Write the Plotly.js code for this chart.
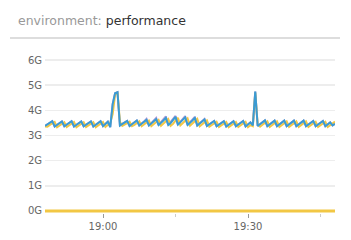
<!DOCTYPE html>
<html>
<head>
<meta charset="utf-8">
<script src="https://cdn.plot.ly/plotly-3.0.1.min.js"></script>
<style>html,body{margin:0;padding:0;background:#fff;}#chart{width:351px;height:240px;}</style>
</head>
<body>
<div id="chart"></div>
<script>
// Sampled every 30 s starting 18:48:00
var startTime = '2024-01-01 18:48:00';
var stepMs = 30000;

var seriesBlue = [
  3.38,3.45,3.52,3.57, 3.36,3.43,3.50,3.56, 3.37,3.44,3.51,3.57, 3.36,3.43,3.50,3.56,
  3.37,3.44,3.51,3.56, 3.36,3.43,3.50,3.57, 3.37,3.45,3.55,3.33, 4.25,4.68,4.72,3.40,
  3.45,3.52,3.58,3.38, 3.45,3.53,3.60,3.40, 3.47,3.55,3.62,3.40, 3.48,3.57,3.65,3.42,
  3.50,3.60,3.70,3.42, 3.50,3.62,3.74,3.43, 3.52,3.62,3.72,3.42, 3.50,3.60,3.70,3.40,
  3.48,3.56,3.64,3.38, 3.45,3.52,3.58,3.37, 3.44,3.51,3.57,3.36, 3.44,3.51,3.57,3.37,
  3.44,3.51,3.58,3.36, 3.44,3.52,3.40,4.75, 3.38,3.46,3.54,3.60, 3.37,3.45,3.53,3.59,
  3.37,3.45,3.53,3.59, 3.37,3.45,3.53,3.59, 3.37,3.45,3.53,3.59, 3.37,3.45,3.53,3.58,
  3.37,3.45,3.53,3.58, 3.37,3.45,3.52,3.40, 3.46
];

var seriesYellow = [
  3.36, 3.35,3.42,3.49,3.54, 3.33,3.40,3.47,3.53, 3.34,3.41,3.48,3.54, 3.33,3.40,3.47,3.53,
  3.34,3.41,3.48,3.53, 3.33,3.40,3.47,3.54, 3.34,3.42,3.50,3.85, 4.62,4.72,3.55,3.38,
  3.42,3.49,3.55,3.37, 3.42,3.50,3.57,3.37, 3.44,3.52,3.59,3.37, 3.45,3.54,3.62,3.39,
  3.47,3.57,3.66,3.39, 3.47,3.59,3.70,3.40, 3.49,3.59,3.68,3.39, 3.47,3.57,3.66,3.37,
  3.45,3.53,3.60,3.35, 3.42,3.49,3.55,3.34, 3.41,3.48,3.54,3.33, 3.41,3.48,3.54,3.34,
  3.41,3.48,3.55,3.33, 3.41,3.37,4.70,3.45, 3.35,3.43,3.51,3.57, 3.34,3.42,3.50,3.56,
  3.34,3.42,3.50,3.56, 3.34,3.42,3.50,3.56, 3.34,3.42,3.50,3.56, 3.34,3.42,3.50,3.55,
  3.34,3.42,3.50,3.55, 3.34,3.42,3.49,3.55
];

var seriesPurple = [
  3.38,3.45,3.52,3.57, 3.36,3.43,3.50,3.56, 3.37,3.44,3.51,3.57, 3.36,3.43,3.50,3.56,
  3.37,3.44,3.51,3.56, 3.36,3.43,3.50,3.57, 3.37,3.45,3.55,3.33, 4.25,4.68,4.72,3.40,
  3.45,3.52,3.58,3.38, 3.45,3.53,3.60,3.40, 3.47,3.56,3.66,3.40, 3.49,3.60,3.70,3.42,
  3.52,3.64,3.76,3.42, 3.52,3.66,3.78,3.43, 3.54,3.66,3.77,3.42, 3.52,3.64,3.74,3.40,
  3.48,3.57,3.66,3.38, 3.45,3.52,3.58,3.37, 3.44,3.51,3.57,3.36, 3.44,3.51,3.57,3.37,
  3.44,3.51,3.58,3.36, 3.44,3.52,3.40,4.75, 3.38,3.46,3.54,3.60, 3.37,3.45,3.53,3.59,
  3.37,3.45,3.53,3.59, 3.37,3.45,3.53,3.59, 3.37,3.45,3.53,3.59, 3.37,3.45,3.53,3.58,
  3.37,3.45,3.53,3.58, 3.37,3.45,3.52,3.40, 3.46
];

// Flat series at zero, sampled every 15 min
var seriesZero = [0, 0, 0, 0, 0];
var zeroStepMs = 900000;

var tickVals = [0, 1, 2, 3, 4, 5, 6];
var tickText = ['0G', '1G', '2G', '3G', '4G', '5G', '6G'];

var traces = [
  {type:'scatter', mode:'lines', x0:startTime, dx:stepMs, y:seriesPurple, line:{color:'#b49bd6', width:2}, hoverinfo:'skip'},
  {type:'scatter', mode:'lines', x0:startTime, dx:stepMs, y:seriesYellow, line:{color:'#f2c744', width:2}, hoverinfo:'skip'},
  {type:'scatter', mode:'lines', x0:startTime, dx:stepMs, y:seriesBlue, line:{color:'#3a9bd4', width:2}, hoverinfo:'skip'},
  {type:'scatter', mode:'lines', x0:startTime, dx:zeroStepMs, y:seriesZero, line:{color:'#f2c744', width:3}, hoverinfo:'skip'}
];

var layout = {
  width: 351, height: 240,
  margin: {l:45, r:16, t:53, b:27},
  paper_bgcolor:'#fff', plot_bgcolor:'#fff',
  showlegend:false,
  font:{family:'DejaVu Sans', size:10, color:'#666'},
  title:{
    text:'environment: <span style="color:#333">performance</span>',
    font:{family:'DejaVu Sans', size:12.5, color:'#999'},
    x:18/351, xanchor:'left', xref:'container',
    y:1-21/240, yanchor:'middle', yref:'container'
  },
  xaxis:{
    type:'date',
    range:['2024-01-01 18:48:00','2024-01-01 19:48:00'],
    tickvals:['2024-01-01 19:00:00','2024-01-01 19:30:00'],
    ticktext:['19:00','19:30'],
    ticks:'outside', ticklen:4, tickcolor:'#999', tickwidth:1,
    minor:{tickvals:['2024-01-01 19:15:00','2024-01-01 19:45:00'], ticks:'outside', ticklen:3, tickcolor:'#ccc', showgrid:false},
    showgrid:false, showline:false, zeroline:false,
    tickfont:{family:'DejaVu Sans', size:10, color:'#666'}
  },
  yaxis:{
    range:[-0.08, 6.28],
    tickvals:tickVals, ticktext:tickText,
    showgrid:true, gridcolor:'#ededed', gridwidth:1.5,
    zeroline:false, showline:false, ticks:'',
    ticklabelstandoff:2,
    tickfont:{family:'DejaVu Sans', size:10, color:'#666'}
  },
  shapes:[
    {type:'line', xref:'paper', yref:'paper', x0:(10-45)/290, x1:(340-45)/290, y0:(213-38)/160, y1:(213-38)/160, line:{color:'#bbb', width:1}}
  ]
};

Plotly.newPlot('chart', traces, layout, {staticPlot:true, displayModeBar:false});
</script>
</body>
</html>
